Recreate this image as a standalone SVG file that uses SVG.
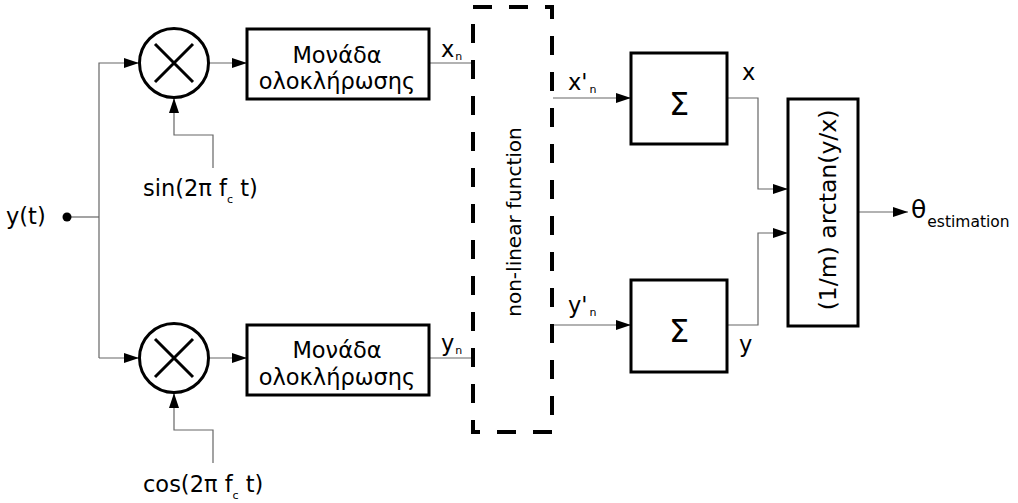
<svg xmlns="http://www.w3.org/2000/svg" width="1018" height="503" viewBox="0 0 1018 503">
  <style>
    .wire { fill: none; stroke: #666; stroke-width: 1.2; }
    .box { fill: #fff; stroke: #000; stroke-width: 3; }
    .mix { fill: #fff; stroke: #000; stroke-width: 3; }
    .txt { font-family: "DejaVu Sans", Verdana, sans-serif; fill: #000; }
    .lbl { font-size: 22.5px; }
    .sub { font-size: 11px; fill: #000; }
  </style>
  <defs>
    <marker id="arrow" viewBox="0 0 15 10" refX="15" refY="5" markerWidth="15" markerHeight="10" markerUnits="userSpaceOnUse" orient="auto">
      <path d="M0,0 L15,5 L0,10 Z" fill="#000"/>
    </marker>
  </defs>
  <rect width="1018" height="503" fill="#fff"/>

  <!-- signal wiring -->
  <g id="connectors">
    <line class="wire" x1="70" y1="217" x2="99" y2="217"/>
    <polyline class="wire" points="99,358 99,63 139,63" marker-end="url(#arrow)"/>
    <line class="wire" x1="99" y1="358" x2="139" y2="358" marker-end="url(#arrow)"/>
    <line class="wire" x1="209" y1="63" x2="247" y2="63" marker-end="url(#arrow)"/>
    <line class="wire" x1="209" y1="358" x2="247" y2="358" marker-end="url(#arrow)"/>
    <polyline class="wire" points="213,168 213,135 174,135 174,98" marker-end="url(#arrow)"/>
    <polyline class="wire" points="213,463 213,430 174,430 174,393" marker-end="url(#arrow)"/>
    <line class="wire" x1="429" y1="63" x2="473" y2="63"/>
    <line class="wire" x1="429" y1="358" x2="473" y2="358"/>
    <line class="wire" x1="553" y1="98" x2="631" y2="98" marker-end="url(#arrow)"/>
    <line class="wire" x1="553" y1="325" x2="631" y2="325" marker-end="url(#arrow)"/>
    <polyline class="wire" points="727,98 758,98 758,189 788,189" marker-end="url(#arrow)"/>
    <polyline class="wire" points="727,325 758,325 758,233 788,233" marker-end="url(#arrow)"/>
    <line class="wire" x1="858" y1="212" x2="908" y2="212" marker-end="url(#arrow)"/>
  </g>

  <!-- input terminal -->
  <g id="input">
    <circle cx="67" cy="217" r="4.5" fill="#000"/>
    <text class="txt lbl" x="6" y="224">y(t)</text>
  </g>

  <!-- multipliers -->
  <g id="mixer-sin">
    <circle class="mix" cx="174" cy="63" r="34.5"/>
    <path d="M155,44 L193,82 M193,44 L155,82" stroke="#000" stroke-width="3"/>
  </g>
  <g id="mixer-cos">
    <circle class="mix" cx="174" cy="358" r="34.5"/>
    <path d="M155,339 L193,377 M193,339 L155,377" stroke="#000" stroke-width="3"/>
  </g>
  <g id="sin-ref">
    <text class="txt lbl" x="143" y="196">sin(2π f<tspan class="sub" dy="7">c</tspan><tspan dy="-7"> t)</tspan></text>
  </g>
  <g id="cos-ref">
    <text class="txt lbl" x="143" y="492">cos(2π f<tspan class="sub" dy="7">c</tspan><tspan dy="-7"> t)</tspan></text>
  </g>

  <!-- integrators -->
  <g id="integrator-x">
    <rect class="box" x="247" y="29" width="182" height="70"/>
    <text class="txt lbl" x="337" y="63" text-anchor="middle">Μονάδα</text>
    <text class="txt lbl" x="337" y="89" text-anchor="middle">ολοκλήρωσης</text>
    <text class="txt lbl" x="441" y="57">x<tspan class="sub" dx="1" dy="3">n</tspan></text>
  </g>
  <g id="integrator-y">
    <rect class="box" x="247" y="325" width="182" height="70"/>
    <text class="txt lbl" x="337" y="358" text-anchor="middle">Μονάδα</text>
    <text class="txt lbl" x="337" y="385" text-anchor="middle">ολοκλήρωσης</text>
    <text class="txt lbl" x="441" y="351">y<tspan class="sub" dx="1" dy="3">n</tspan></text>
  </g>

  <!-- non-linear stage -->
  <g id="nonlinear">
    <rect x="473" y="7" width="79" height="425" fill="none" stroke="#000" stroke-width="4" stroke-dasharray="19 17"/>
    <text class="txt" font-size="20" transform="translate(521,222) rotate(-90)" text-anchor="middle">non-linear function</text>
  </g>

  <!-- accumulators -->
  <g id="sum-x">
    <text class="txt lbl" x="568" y="90">x'<tspan class="sub" dx="2" dy="3">n</tspan></text>
    <rect class="box" x="631" y="53" width="96" height="91"/>
    <text class="txt" font-size="32" x="679" y="115" text-anchor="middle">Σ</text>
    <text class="txt lbl" x="742" y="80">x</text>
  </g>
  <g id="sum-y">
    <text class="txt lbl" x="568" y="313">y'<tspan class="sub" dx="2" dy="3">n</tspan></text>
    <rect class="box" x="631" y="280" width="96" height="92"/>
    <text class="txt" font-size="32" x="679" y="342" text-anchor="middle">Σ</text>
    <text class="txt lbl" x="739" y="352">y</text>
  </g>

  <!-- phase estimator -->
  <g id="arctan">
    <rect class="box" x="788" y="99" width="70" height="227"/>
    <text class="txt" font-size="23.5" transform="translate(836,210) rotate(-90)" text-anchor="middle">(1/m) arctan(y/x)</text>
  </g>
  <g id="output">
    <text class="txt" font-size="25" x="911" y="218">θ<tspan font-size="15.5" dx="1" dy="9">estimation</tspan></text>
  </g>
</svg>
